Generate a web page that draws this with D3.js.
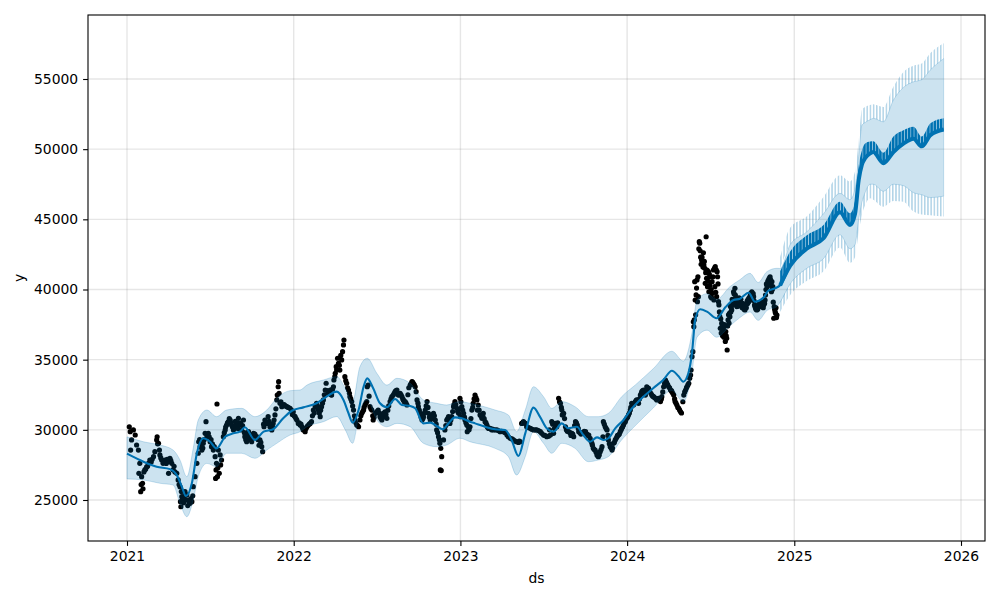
<!DOCTYPE html>
<html><head><meta charset="utf-8">
<script src="https://cdn.jsdelivr.net/npm/d3@7"></script>
<style>body{margin:0;background:#fff} svg{display:block} text{font-family:"DejaVu Sans",sans-serif}</style>
</head><body><svg id="c" width="1000" height="600"></svg>
<script>
// ---- data (days counted from startDate) ----
const startDate = "2021-01-01";
const xTickYears = [2021, 2022, 2023, 2024, 2025, 2026];
const yTicks = [25000, 30000, 35000, 40000, 45000, 50000, 55000];

// observed points [day, y]
const obsPoints = [
[5,30220],[7,29870],[10,29280],[8,28560],[14,29990],[18,29630],[21,28920],[25,28560],[28,27610],[32,26660],
[34,26190],[30,25590],[39,27140],[43,27370],[47,27610],[50,27850],[58,28090],[61,28440],[65,29280],[69,29040],
[71,28560],[72,28210],[76,27850],[79,27610],[83,27850],[90,27730],[94,27970],[98,27610],[101,27140],[91,26900],
[109,26900],[112,26430],[116,25950],[120,25240],[117,24880],[118,24520],[127,25590],[131,25360],[134,25000],[138,24760],
[142,24880],[145,25950],[149,26660],[153,27610],[156,28330],[157,29150],[160,28800],[164,28560],[167,29040],[173,30580],
[171,29750],[175,29510],[178,29750],[182,29150],[185,28800],[189,28560],[193,28090],[196,27610],[195,27140],[198,26660],
[194,26540],[197,31840],[200,28560],[204,28210],[207,27850],[211,29510],[215,29990],[218,30340],[222,30580],[226,30700],
[229,30340],[233,29990],[239,30340],[244,30820],[247,30340],[251,29990],[255,30700],[258,29510],[262,29150],[266,29870],
[269,29510],[273,29150],[277,29750],[284,29510],[291,29280],[295,28800],[297,28440],[300,30220],[302,30700],[306,30460],
[309,30940],[313,30220],[317,29990],[320,30460],[324,31060],[328,32130],[329,32480],[331,33070],[332,33430],[335,31890],
[339,31650],[342,31770],[350,31650],[357,31530],[364,31290],[368,30940],[372,30700],[375,30460],[379,30340],[383,30220],
[386,29990],[390,29870],[394,30220],[401,30460],[404,30580],[408,31410],[412,31650],[415,31890],[419,31410],[423,30940],
[426,31650],[430,32130],[434,32840],[436,33320],[441,32600],[445,32840],[448,32480],[452,33070],[453,33550],[456,34030],
[459,34260],[463,34740],[461,35100],[466,34260],[470,34980],[472,35570],[474,36050],[475,36400],[477,33790],[481,33320],
[485,32840],[488,32360],[492,32010],[496,31410],[499,30700],[503,30340],[507,30220],[514,31180],[518,31410],[521,31770],
[525,32010],[526,33070],[528,33190],[532,31650],[536,31410],[539,30700],[543,31180],[547,31290],[550,31410],[554,30940],
[558,30700],[561,31180],[565,31290],[569,30820],[576,32010],[580,32360],[583,32480],[587,32720],[591,32840],[594,32480],
[598,32600],[602,32360],[605,32130],[609,32010],[613,31770],[620,33190],[624,33430],[627,33320],[631,33070],[633,32720],
[635,32130],[638,31650],[642,31180],[646,30700],[649,30940],[653,31410],[657,32010],[660,31180],[664,30700],[667,30940],
[671,31180],[675,30700],[678,29990],[682,29510],[685,29040],[687,28680],[689,28090],[686,27140],[688,27100],[693,29280],
[696,29990],[700,30700],[704,30940],[707,30460],[711,30940],[715,31650],[718,32010],[722,31530],[726,31180],[729,32250],
[733,31650],[737,31180],[740,30700],[744,30340],[747,30220],[730,30940],[745,29870],[751,30220],[755,31410],[758,31890],
[762,32480],[766,32130],[769,31770],[767,31410],[773,31060],[777,30820],[780,31180],[784,30580],[788,30340],[791,30110],
[795,30110],[802,29990],[810,29990],[817,29870],[824,29870],[832,29630],[839,29400],[846,29280],[853,29150],[861,29150],
[864,30460],[868,30580],[872,30460],[875,30220],[883,30110],[890,29990],[897,29990],[905,29870],[912,29630],[919,29510],
[927,29630],[930,30580],[934,29750],[938,30460],[941,30220],[945,32250],[949,31890],[952,31410],[953,31060],[956,31180],
[960,30220],[967,29870],[974,29750],[978,29510],[982,30580],[986,30340],[989,29870],[996,29750],[1004,29870],[1011,29630],
[1014,29400],[1018,29040],[1021,28680],[1025,28560],[1029,28210],[1032,28090],[1036,28440],[1040,28800],[1043,30580],[1047,30220],
[1051,29990],[1054,29280],[1058,28800],[1062,28560],[1065,29040],[1069,29280],[1073,29510],[1076,29630],[1080,29870],[1083,30110],
[1087,30340],[1091,30580],[1094,30820],[1098,31060],[1102,31410],[1105,31890],[1109,31770],[1113,32010],[1116,32130],[1120,31890],
[1124,32480],[1127,32720],[1131,32840],[1135,32480],[1138,33070],[1142,32960],[1149,32480],[1153,32360],[1157,32250],[1160,32130],
[1164,32250],[1168,32010],[1171,32360],[1175,33070],[1179,33550],[1182,33320],[1186,33070],[1190,32840],[1193,32720],[1197,32480],
[1200,32010],[1204,31770],[1208,31530],[1212,31290],[1219,32480],[1223,32840],[1226,33070],[1230,33320],[1232,33670],[1235,34260],
[1237,35210],[1239,35570],[1241,37350],[1240,37700],[1242,37830],[1244,39250],[1246,39610],[1243,40560],[1248,40680],[1251,39490],
[1249,39130],[1253,43410],[1268,43760],[1255,42760],[1262,42620],[1258,42100],[1260,41910],[1263,41740],[1265,41510],[1270,41390],
[1273,41270],[1277,40910],[1281,40560],[1284,41390],[1288,41630],[1292,41270],[1293,40910],[1266,40440],[1271,40200],[1274,39840],
[1278,39490],[1282,39730],[1285,39250],[1291,39490],[1295,39130],[1298,38060],[1302,37590],[1299,37230],[1305,37110],[1309,36880],
[1313,36520],[1314,35690],[1316,37830],[1320,38060],[1324,38540],[1327,39020],[1331,40090],[1328,39840],[1335,38780],[1339,39130],
[1342,39250],[1346,39020],[1350,38780],[1353,38540],[1357,39020],[1361,39130],[1364,39490],[1368,39840],[1372,39490],[1375,38780],
[1379,38540],[1383,38900],[1386,39020],[1390,38780],[1394,38900],[1397,39250],[1401,40320],[1405,40680],[1408,40910],[1412,40560],
[1414,40200],[1411,39840],[1417,38780],[1419,38420],[1423,38180],[1416,37950],
[26,26900],[31,26100],[35,25800],[37,27000],[41,27200],[45,27400],[53,27700],[55,27900],[66,29500],[67,29000],
[74,28000],[81,27700],[86,27600],[88,27900],[96,27800],[103,27400],[105,27000],[114,26100],[119,25600],[122,25100],
[124,24800],[126,25300],[129,25000],[133,24600],[136,24900],[140,25100],[144,25300],[159,29300],[162,29000],[166,28700],
[169,29300],[180,29500],[184,29300],[187,29000],[191,28800],[199,27300],[202,26900],[205,27500],[213,29800],[216,30200],
[220,30500],[224,30800],[228,30500],[231,30200],[235,30100],[237,30600],[241,30500],[243,30100],[249,30500],[253,30300],
[257,29800],[260,29300],[264,29600],[267,29300],[271,29400],[275,29500],[280,29700],[287,29300],[289,28900],[293,29100],
[299,30400],[304,30500],[311,30600],[315,30300],[319,30200],[322,30700],[326,31500],[333,32600],[337,32000],[344,31800],
[347,31700],[353,31600],[360,31400],[362,31100],[366,31000],[370,30800],[377,30500],[381,30400],[385,30100],[388,30000],
[392,30100],[396,30300],[399,30400],[406,31000],[410,31200],[417,31700],[421,31200],[424,31400],[428,31900],[432,32500],
[438,32800],[443,32700],[447,32500],[450,32900],[455,33800],[458,34500],[465,34600],[468,35300],[479,33500],[483,33000],
[487,32600],[490,32200],[494,31700],[498,31000],[501,30500],[505,30300],[510,30700],[512,31000],[516,31300],[519,31600],
[523,31900],[530,32400],[534,31500],[538,31000],[541,30900],[545,31200],[548,31300],[552,31200],[556,30800],[560,30900],
[563,31200],[567,31100],[571,31400],[573,31700],[578,32200],[585,32600],[589,32800],[593,32600],[596,32500],[600,32500],
[604,32200],[607,32000],[611,31900],[615,32500],[617,33000],[622,33300],[625,33400],[629,33200],[637,31900],[640,31400],
[644,30900],[648,30800],[651,31200],[655,31700],[659,31600],[662,30900],[666,30800],[669,31000],[673,31000],[677,30400],
[680,29800],[684,29300],[698,30300],[702,30800],[706,30700],[709,30700],[713,31300],[716,31800],[720,31800],[724,31300],
[728,31500],[731,32000],[735,31400],[739,30900],[742,30500],[749,30000],[753,30800],[757,31600],[760,32200],[764,32300],
[771,31400],[775,31000],[779,31000],[782,30800],[786,30500],[789,30200],[793,30100],[798,30000],[800,30050],[806,30000],
[813,29950],[820,29900],[828,29800],[835,29500],[843,29350],[850,29200],[857,29100],[859,29200],[866,30500],[870,30500],
[877,30200],[880,30150],[886,30050],[894,30000],[901,29950],[908,29750],[915,29600],[923,29550],[925,30000],[932,30400],
[936,30100],[940,30300],[943,30500],[947,32000],[951,31600],[955,31100],[958,30800],[962,30000],[964,29900],[970,29800],
[972,29600],[976,29700],[980,30300],[984,30500],[988,30100],[992,29800],[994,29700],[998,29800],[1001,29900],[1007,29700],
[1009,29600],[1016,29200],[1019,28900],[1023,28600],[1027,28400],[1031,28150],[1034,28200],[1038,28600],[1042,29500],[1045,30400],
[1049,30100],[1053,29600],[1056,29000],[1060,28700],[1063,28700],[1067,29100],[1071,29400],[1074,29600],[1078,29700],[1082,30000],
[1085,30200],[1089,30500],[1092,30700],[1096,30900],[1100,31200],[1103,31600],[1107,31800],[1111,31900],[1115,32100],[1118,32000],
[1122,32200],[1126,32600],[1129,32800],[1133,32700],[1137,32800],[1140,33000],[1144,32800],[1147,32600],[1151,32400],[1155,32300],
[1159,32200],[1162,32200],[1166,32100],[1170,32200],[1173,32700],[1177,33300],[1181,33400],[1184,33200],[1188,33000],[1192,32800],
[1195,32600],[1199,32200],[1202,31900],[1206,31600],[1210,31400],[1214,31200],[1217,32000],[1221,32700],[1225,33000],[1228,33200],
[1234,33900],[1245,38200],[1247,40100],[1250,40900],[1252,42900],[1254,43300],[1256,42300],[1257,41800],[1259,42300],[1261,41600],
[1264,42000],[1267,41200],[1269,40800],[1272,40600],[1275,41100],[1276,40300],[1279,40000],[1280,39400],[1283,40900],[1286,41500],
[1287,40200],[1289,39800],[1290,41400],[1294,40400],[1296,38900],[1297,38400],[1300,37900],[1301,36900],[1303,37400],[1304,36700],
[1306,37300],[1307,36600],[1308,37500],[1310,36300],[1311,37000],[1312,36700],[1315,37400],[1317,38200],[1318,37600],[1319,38300],
[1321,38800],[1322,38400],[1323,38700],[1325,39300],[1326,38900],[1329,39700],[1330,39300],[1332,39600],[1333,39000],[1334,39400],
[1336,39000],[1337,38800],[1338,38900],[1340,39400],[1341,39100],[1343,39000],[1344,39300],[1345,38800],[1347,38700],[1348,38900],
[1349,39000],[1351,38600],[1352,38800],[1354,38700],[1355,38900],[1356,38700],[1358,39200],[1359,39000],[1360,39300],[1362,39400],
[1363,39200],[1365,39700],[1366,39500],[1367,39600],[1369,39700],[1370,39300],[1371,39700],[1373,39200],[1374,38900],[1376,38700],
[1377,38600],[1378,38800],[1380,38700],[1381,38600],[1382,38800],[1384,39000],[1385,38800],[1387,38900],[1388,39000],[1389,38900],
[1391,38800],[1392,39100],[1393,38700],[1395,39100],[1396,39000],[1398,39600],[1399,40000],[1400,40400],[1402,40200],[1403,40600],
[1404,40500],[1406,40800],[1407,40600],[1409,40700],[1410,40300],[1413,40000],[1415,39100],[1418,38600],[1420,38300],[1421,38700],
[1422,38000]
];

// fitted yhat over the history [day, yhat]
const histYhat = [
[0,28300],[36,27730],[65,27370],[94,27200],[109,26780],[120,25950],[129,25285],[142,26190],[153,28330],[167,29400],
[182,29150],[196,28680],[215,29510],[233,29750],[247,29870],[258,30180],[280,29280],[299,29870],[320,30040],[342,30820],
[361,31360],[386,31600],[415,31890],[437,32360],[459,32720],[474,32130],[485,31180],[494,30510],[507,31410],[518,33070],
[526,33670],[539,32960],[554,31890],[569,31610],[587,32200],[602,31770],[620,31700],[631,31530],[649,30460],[664,30510],
[678,30280],[691,30040],[704,30460],[718,30890],[733,30820],[751,30580],[762,30460],[784,30220],[806,30040],[828,29990],
[842,29280],[857,28140],[872,29750],[890,31580],[904,30940],[919,30110],[934,29870],[952,30460],[966,30110],[985,30220],
[999,29630],[1014,29150],[1029,29460],[1043,29280],[1054,29400],[1069,30110],[1087,30700],[1105,31500],[1123,32130],[1152,32960],
[1174,33550],[1193,34210],[1207,33840],[1218,33430],[1229,34030],[1237,35460],[1244,37830],[1255,38590],[1270,38420],[1291,37950],
[1310,38730],[1328,39250],[1342,39340],[1361,39770],[1375,39130],[1394,39440],[1404,39910],[1419,40090]
];

// uncertainty interval over the history [day, upper, lower]
const histBand = [
[0,29500,26500],[36,29150,26430],[72,28920,26190],[101,28560,26070],[116,27850,24760],[131,26660,23810],[145,28680,25000],
[156,30700,26660],[175,31410,27610],[196,30940,27370],[218,31410,28330],[251,31530,28330],[280,30940,27970],[306,31410,28560],
[328,32250,29040],[357,32790,29630],[379,32840,29870],[394,33190,30220],[430,33550,30580],[459,33790,30940],[478,32960,29990],
[494,32010,29040],[510,34500,31410],[526,35100,32130],[547,34030,30700],[569,33190,30220],[591,33670,30460],[620,33320,30220],
[649,32130,29040],[678,31890,28800],[700,31770,28920],[729,32010,29400],[751,31890,29150],[806,31410,28680],[835,31060,28090],
[853,29870,26780],[872,31410,28090],[890,33070,29870],[912,32360,29040],[930,31530,28330],[952,32010,29040],[981,31650,28680],
[1010,30940,27730],[1032,30940,27850],[1054,31180,28090],[1083,32360,29280],[1113,33200,30300],[1152,34350,31550],[1193,35600,32800],
[1218,34900,32000],[1237,36900,34100],[1248,39250,36600],[1270,39700,37100],[1291,39300,36600],[1320,40200,37400],[1342,40700,38000],
[1364,41150,38400],[1382,40500,37800],[1401,41270,38500],[1423,41510,38780]
];

// forecast [day, yhat weekday, yhat weekend, upper weekday, upper weekend, lower weekday, lower weekend]
const futureRows = [
[1430,40300,41300,41500,42300,39100,38400],
[1452,41700,42700,43200,44400,40400,39600],
[1488,42900,43850,44100,45200,41500,40600],
[1525,43650,44600,45400,46600,42200,41300],
[1561,45500,46250,46850,48150,43900,43000],
[1583,44600,45430,46400,47700,42900,41900],
[1594,45400,46300,47200,48400,43200,42300],
[1602,47800,48800,49500,50600,45000,44100],
[1609,48900,49900,51700,52800,46200,45300],
[1616,49350,50400,51900,53000,46900,46000],
[1627,49700,50550,52100,53150,47500,46500],
[1634,49800,50560,52200,53200,47500,46400],
[1656,49000,49750,51950,53000,47000,45900],
[1678,49800,50900,53500,54450,47500,46300],
[1700,50400,51350,54400,55500,47400,46250],
[1722,50750,51600,54800,55950,46900,45550],
[1740,50200,50900,54950,56100,46750,45350],
[1759,51000,51850,55650,56850,46550,45300],
[1788,51400,52200,56450,57550,46650,45200]
];

// ---- drawing ----
const BLUE = "#0072B2";
const svg = d3.select("#c");
const t0 = new Date(startDate + "T00:00:00Z");
const dayToDate = d => new Date(t0.getTime() + d * 864e5);
const yearDate = yr => new Date(Date.UTC(yr, 0, 1));

const L = 88, R = 985, T = 15, B = 541;
const tA = yearDate(xTickYears[0]), tB = yearDate(xTickYears[xTickYears.length - 1]);
const pxA = 127, pxB = 961;
const msPerPx = (tB - tA) / (pxB - pxA);
const x = d3.scaleUtc()
  .domain([new Date(tA.getTime() - (pxA - L) * msPerPx), new Date(tB.getTime() + (R - pxB) * msPerPx)])
  .range([L, R]);
const y = d3.scaleLinear().domain([22078, 59561]).range([B, T]);

// grid
const grid = svg.append("g");
grid.selectAll(".gx").data(xTickYears).join("line")
  .attr("x1", d => x(yearDate(d))).attr("x2", d => x(yearDate(d)))
  .attr("y1", T).attr("y2", B).attr("stroke", "#808080").attr("stroke-opacity", 0.2).attr("stroke-width", 1.4);
grid.selectAll(".gy").data(yTicks).join("line")
  .attr("y1", d => y(d)).attr("y2", d => y(d))
  .attr("x1", L).attr("x2", R).attr("stroke", "#808080").attr("stroke-opacity", 0.2).attr("stroke-width", 1.4);

// comb patterns for the weekly cycle of the forecast
const wk = x(dayToDate(7)) - x(dayToDate(0));
const defs = svg.append("defs");
const px0 = x(dayToDate(futureRows[0][0]));
defs.append("pattern").attr("id", "combDark").attr("patternUnits", "userSpaceOnUse")
  .attr("x", px0).attr("y", 0).attr("width", wk).attr("height", 20)
  .append("rect").attr("x", 0).attr("y", 0).attr("width", 2.6).attr("height", 20).attr("fill", BLUE);
defs.append("pattern").attr("id", "combLight").attr("patternUnits", "userSpaceOnUse")
  .attr("x", px0).attr("y", 0).attr("width", wk).attr("height", 20)
  .append("rect").attr("x", 0).attr("y", 0).attr("width", 1.5).attr("height", 20).attr("fill", BLUE).attr("fill-opacity", 0.3);

// observed points
svg.append("g").selectAll("circle").data(obsPoints).join("circle")
  .attr("cx", d => x(dayToDate(d[0]))).attr("cy", d => y(d[1])).attr("r", 2.6).attr("fill", "#000");

// yhat line
const lineData = histYhat.map(d => [d[0], d[1]]).concat(futureRows.map(r => [r[0], r[1]]));
const line = d3.line().x(d => x(dayToDate(d[0]))).y(d => y(d[1])).curve(d3.curveMonotoneX);
svg.append("path").attr("d", line(lineData)).attr("fill", "none").attr("stroke", BLUE).attr("stroke-width", 2.1);
svg.append("path").attr("d", line(futureRows.map(r => [r[0], r[1]]))).attr("fill", "none").attr("stroke", BLUE).attr("stroke-width", 4);
const combArea = (i0, i1) => d3.area().x(d => x(dayToDate(d[0]))).y0(d => y(d[i0])).y1(d => y(d[i1])).curve(d3.curveMonotoneX);
svg.append("path").attr("d", combArea(1, 2)(futureRows)).attr("fill", "url(#combDark)");

// uncertainty band
const bandData = histBand.map(d => [d[0], d[1], d[2]]).concat(futureRows.map(r => [r[0], r[3], r[5]]));
const band = d3.area().x(d => x(dayToDate(d[0]))).y0(d => y(d[2])).y1(d => y(d[1])).curve(d3.curveMonotoneX);
svg.append("path").attr("d", band(bandData)).attr("fill", BLUE).attr("fill-opacity", 0.2)
  .attr("stroke", BLUE).attr("stroke-opacity", 0.2).attr("stroke-width", 1);
svg.append("path").attr("d", combArea(3, 4)(futureRows)).attr("fill", "url(#combLight)");
svg.append("path").attr("d", combArea(6, 5)(futureRows)).attr("fill", "url(#combLight)");

// frame
svg.append("rect").attr("x", L).attr("y", T).attr("width", R - L).attr("height", B - T)
  .attr("fill", "none").attr("stroke", "#000").attr("stroke-width", 1.1);

// axes
const xAxis = d3.axisBottom(x).tickValues(xTickYears.map(yearDate)).tickFormat(d3.utcFormat("%Y")).tickSize(4.9).tickPadding(4.9);
const gx = svg.append("g").attr("transform", `translate(0,${B})`).call(xAxis);
const yAxis = d3.axisLeft(y).tickValues(yTicks).tickFormat(d3.format("d")).tickSize(4.9).tickPadding(4.9);
const gy = svg.append("g").attr("transform", `translate(${L},0)`).call(yAxis);
[gx, gy].forEach(g => {
  g.select(".domain").remove();
  g.selectAll(".tick line").attr("stroke", "#000").attr("stroke-width", 1.1);
  g.selectAll(".tick text").attr("fill", "#000").attr("font-size", "13.9px").attr("font-family", "DejaVu Sans");
});

svg.append("text").attr("x", (L + R) / 2).attr("y", 583).attr("text-anchor", "middle")
  .attr("font-size", "13.9px").text("ds");
svg.append("text").attr("transform", `translate(24,${(T + B) / 2}) rotate(-90)`).attr("text-anchor", "middle")
  .attr("font-size", "13.9px").text("y");
</script></body></html>
